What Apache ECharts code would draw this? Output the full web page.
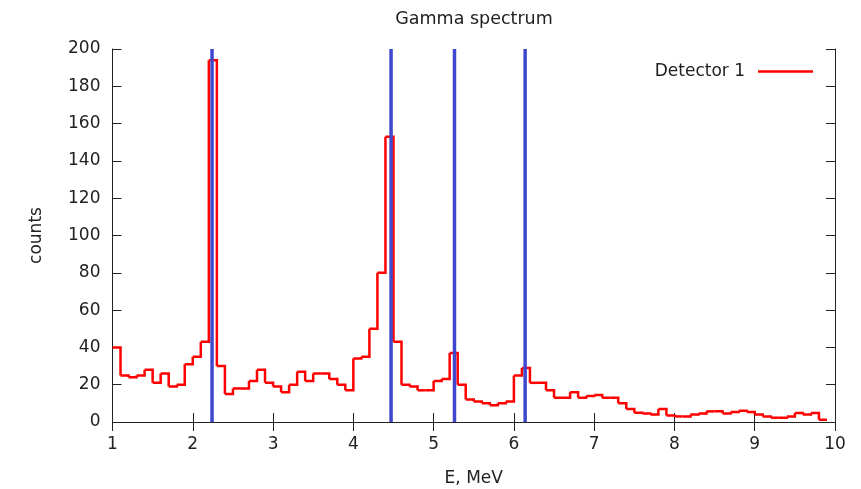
<!DOCTYPE html>
<html>
<head>
<meta charset="utf-8">
<script src="https://cdn.jsdelivr.net/npm/echarts@6/dist/echarts.min.js"></script>
<style>
html,body{margin:0;padding:0;background:#fff;}
#c{width:861px;height:489px;}
</style>
</head>
<body>
<div id="c"></div>
<script>
// Bin edges (MeV)
const binEdges = [1.0,1.1,1.2,1.3,1.4,1.5,1.6,1.7,1.8,1.9,
  2.0,2.1,2.2,2.3,2.4,2.5,2.6,2.7,2.8,2.9,
  3.0,3.1,3.2,3.3,3.4,3.5,3.6,3.7,3.8,3.9,
  4.0,4.1,4.2,4.3,4.4,4.5,4.6,4.7,4.8,4.9,
  5.0,5.1,5.2,5.3,5.4,5.5,5.6,5.7,5.8,5.9,
  6.0,6.1,6.2,6.3,6.4,6.5,6.6,6.7,6.8,6.9,
  7.0,7.1,7.2,7.3,7.4,7.5,7.6,7.7,7.8,7.9,
  8.0,8.1,8.2,8.3,8.4,8.5,8.6,8.7,8.8,8.9,
  9.0,9.1,9.2,9.3,9.4,9.5,9.6,9.7,9.8,9.9];
// Counts per bin (Detector 1)
const counts = [40,25,24,25,28,21,26,19,20,31,
  35,43,194,30,15,18,18,22,28,21,
  19,16,20,27,22,26,26,23,20,17,
  34,35,50,80,153,43,20,19,17,17,
  22,23,37,20,12,11,10,9,10,11,
  25,29,21,21,17,13,13,16,13,14,
  14.5,13,13,10,7,5,4.5,4,7,3.5,
  3,3,4,4.5,5.7,5.7,4.5,5.4,6,5.4,
  4,3,2.3,2.3,3,4.8,4,4.8,1.2];
// Gamma line energies (MeV)
const lineEnergies = [2.24, 4.47, 5.26, 6.14];
const xTicks = [1,2,3,4,5,6,7,8,9,10];
const yTicks = [0,20,40,60,80,100,120,140,160,180,200];

const FONT = 'DejaVu Sans';
const TXT = '#222';
const RED = '#ff0000';

// one item per bin: [left edge, right edge, count, next count]
const histData = counts.map((v, i) => [
  binEdges[i], binEdges[i + 1], v,
  i + 1 < counts.length ? counts[i + 1] : v
]);

const series = [{
  name: 'Detector 1',
  type: 'custom',
  coordinateSystem: 'cartesian2d',
  data: histData,
  encode: {x: [0, 1], y: [2, 3]},
  itemStyle: {color: RED},
  z: 2,
  renderItem: function (params, api) {
    const l = api.value(0), r = api.value(1), v = api.value(2), nv = api.value(3);
    const p1 = api.coord([l, v]);
    const p2 = api.coord([r, v]);
    const p3 = api.coord([r, nv]);
    return {
      type: 'polyline',
      shape: {points: [p1, p2, p3]},
      style: {stroke: RED, lineWidth: 2.5, fill: null, lineJoin: 'miter'}
    };
  }
}];
lineEnergies.forEach(e => {
  series.push({
    type: 'line',
    data: [[e, 0], [e, 200]],
    symbol: 'none',
    lineStyle: {color: '#3f48cc', width: 3.5},
    silent: true,
    z: 3
  });
});

function axisCommon(extra) {
  return Object.assign({
    type: 'value',
    axisLine: {show: true, lineStyle: {color: TXT, width: 1}},
    axisTick: {show: true, inside: true, length: 9, lineStyle: {color: TXT, width: 1}},
    splitLine: {show: false}
  }, extra);
}

const chart = echarts.init(document.getElementById('c'), null, {renderer: 'canvas'});
chart.setOption({
  animation: false,
  backgroundColor: '#fff',
  textStyle: {fontFamily: FONT},
  title: {
    text: 'Gamma spectrum',
    left: 474, top: 10, padding: 0,
    textAlign: 'center',
    textStyle: {fontFamily: FONT, fontSize: 17.5, fontWeight: 'normal', color: TXT}
  },
  legend: {
    data: [{name: 'Detector 1', itemStyle: {color: RED}}],
    right: 48, top: 63, padding: 0,
    align: 'right',
    icon: 'rect',
    itemWidth: 55, itemHeight: 2.5,
    textStyle: {fontFamily: FONT, fontSize: 17, color: TXT, padding: [0, 8, 0, 0]}
  },
  grid: {left: 112.5, right: 26, top: 49, bottom: 67, containLabel: false, outerBoundsMode: 'none'},
  xAxis: [
    axisCommon({
      min: 1, max: 10, interval: 1, position: 'bottom',
      name: 'E, MeV', nameLocation: 'middle', nameGap: 48,
      nameTextStyle: {fontFamily: FONT, fontSize: 17, color: TXT},
      axisLabel: {fontFamily: FONT, fontSize: 17, color: TXT, margin: 14,
        customValues: xTicks}
    }),
    axisCommon({min: 1, max: 10, interval: 1, position: 'top', axisLabel: {show: false}})
  ],
  yAxis: [
    axisCommon({
      min: 0, max: 200, interval: 20, position: 'left',
      name: 'counts', nameLocation: 'middle', nameGap: 67,
      nameTextStyle: {fontFamily: FONT, fontSize: 17, color: TXT},
      axisLabel: {fontFamily: FONT, fontSize: 17, color: TXT, margin: 12}
    }),
    axisCommon({min: 0, max: 200, interval: 20, position: 'right', axisLabel: {show: false}})
  ],
  series: series
});
</script>
</body>
</html>
